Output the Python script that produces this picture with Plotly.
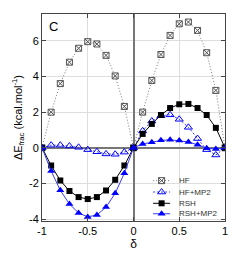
import plotly.graph_objects as go

delta = [-1.0, -0.9, -0.8, -0.7, -0.6, -0.5, -0.4, -0.3, -0.2, -0.1, 0.0,
         0.1, 0.2, 0.3, 0.4, 0.5, 0.6, 0.7, 0.8, 0.9, 1.0]
hf = [0, 2.0, 3.6, 4.8, 5.58, 5.95, 5.82, 5.18, 4.03, 2.32, 0,
      2.0, 3.77, 5.23, 6.3, 6.95, 7.05, 6.58, 5.33, 3.22, 0]
hf_mp2 = [0, 0.15, 0.15, 0.1, 0.03, -0.1, -0.22, -0.34, -0.36, -0.24, 0,
          0.95, 1.5, 1.8, 1.85, 1.6, 1.15, 0.52, -0.1, -0.4, 0]
rsh = [0, -0.99, -1.83, -2.42, -2.76, -2.87, -2.76, -2.39, -1.79, -0.99, 0,
       0.78, 1.34, 1.84, 2.23, 2.44, 2.46, 2.23, 1.84, 1.12, 0]
rsh_mp2 = [0, -1.3, -2.38, -3.15, -3.65, -3.87, -3.76, -3.32, -2.55, -1.42, 0,
           0.22, 0.31, 0.42, 0.45, 0.41, 0.33, 0.17, -0.02, -0.06, 0]

series_names = ["HF", "HF+MP2", "RSH", "RSH+MP2"]
series_values = [hf, hf_mp2, rsh, rsh_mp2]

x_ticks = [-1, -0.5, 0, 0.5, 1]
x_tick_labels = ["-1", "-0.5", "0", "0.5", "1"]
y_ticks = [-4, -2, 0, 2, 4, 6]
y_tick_labels = ["-4", "-2", "0", "2", "4", "6"]

FONT = "Liberation Sans, Arial, sans-serif"
BLUE = "#0000ff"
BLUE_LINE = "#3a3aff"

styles = [
    dict(line=dict(color="#777777", width=1, dash="1px,2px"),
         marker=dict(symbol="square-x-open", size=6, color="#555555",
                     line=dict(width=1, color="#555555"))),
    dict(line=dict(color=BLUE_LINE, width=1, dash="2px,2px"),
         marker=dict(symbol="triangle-up-open", size=7, color=BLUE,
                     line=dict(width=1, color=BLUE))),
    dict(line=dict(color="#000000", width=1),
         marker=dict(symbol="square", size=6, color="#000000")),
    dict(line=dict(color=BLUE_LINE, width=1),
         marker=dict(symbol="triangle-up", size=7, color=BLUE)),
]

fig = go.Figure()
for name, vals, st in zip(series_names, series_values, styles):
    fig.add_trace(go.Scatter(x=delta, y=vals, name=name, mode="lines+markers",
                             showlegend=False, **st))

# Compact legend drawn on an overlay axis (0..1 in each direction)
leg_rows = [0.195, 0.140, 0.0855, 0.035]
leg_x0, leg_x1, leg_text_x = 0.607, 0.700, 0.738
annotations = []
for name, st, ly in zip(series_names, styles, leg_rows):
    fig.add_trace(go.Scatter(x=[leg_x0, leg_x1], y=[ly, ly], mode="lines",
                             line=st["line"], xaxis="x2", yaxis="y2",
                             showlegend=False, hoverinfo="skip"))
    fig.add_trace(go.Scatter(x=[(leg_x0 + leg_x1) / 2], y=[ly], mode="markers",
                             marker=st["marker"], xaxis="x2", yaxis="y2",
                             showlegend=False, hoverinfo="skip"))
    annotations.append(dict(text=name, x=leg_text_x, y=ly, xref="paper", yref="paper",
                            xanchor="left", yanchor="middle", showarrow=False,
                            font=dict(family=FONT, size=8, color="#333333")))

annotations.append(dict(text="C", x=0.025, y=0.985, xref="paper", yref="paper",
                        xanchor="left", yanchor="top", showarrow=False,
                        font=dict(family=FONT, size=13, color="#000000")))

axis_common = dict(
    showline=True, linecolor="#444444", linewidth=1, mirror="ticks",
    ticks="inside", ticklen=4, tickcolor="#444444",
    showgrid=True, gridcolor="#dedede", gridwidth=1,
    zeroline=True, zerolinecolor="#777777", zerolinewidth=1.5,
    tickfont=dict(family=FONT, size=11, color="#000000"),
    automargin=False,
)

# page body has an 8px default margin; figure sized so plot area lands where the reference's does
fig.update_layout(
    width=228, height=243,
    margin=dict(l=34, r=11, t=6, b=30),
    paper_bgcolor="white", plot_bgcolor="white",
    font=dict(family=FONT, size=11, color="#000000"),
    showlegend=False,
    xaxis=dict(range=[-1, 1], tickvals=x_ticks, ticktext=x_tick_labels,
               title=dict(text="δ", font=dict(family=FONT, size=12), standoff=5),
               **axis_common),
    yaxis=dict(range=[-4.1, 7.5], tickvals=y_ticks, ticktext=y_tick_labels,
               title=dict(text="ΔE<sub>frac</sub> (kcal.mol<sup>-1</sup>)",
                          font=dict(family=FONT, size=11), standoff=4),
               **axis_common),
    xaxis2=dict(overlaying="x", range=[0, 1], visible=False, fixedrange=True),
    yaxis2=dict(overlaying="y", range=[0, 1], visible=False, fixedrange=True),
    shapes=[dict(type="rect", xref="paper", yref="paper",
                 x0=0.59, x1=0.985, y0=0.012, y1=0.225,
                 fillcolor="white", line=dict(width=0), layer="between")],
    annotations=annotations,
)

fig.write_html("out.html")
